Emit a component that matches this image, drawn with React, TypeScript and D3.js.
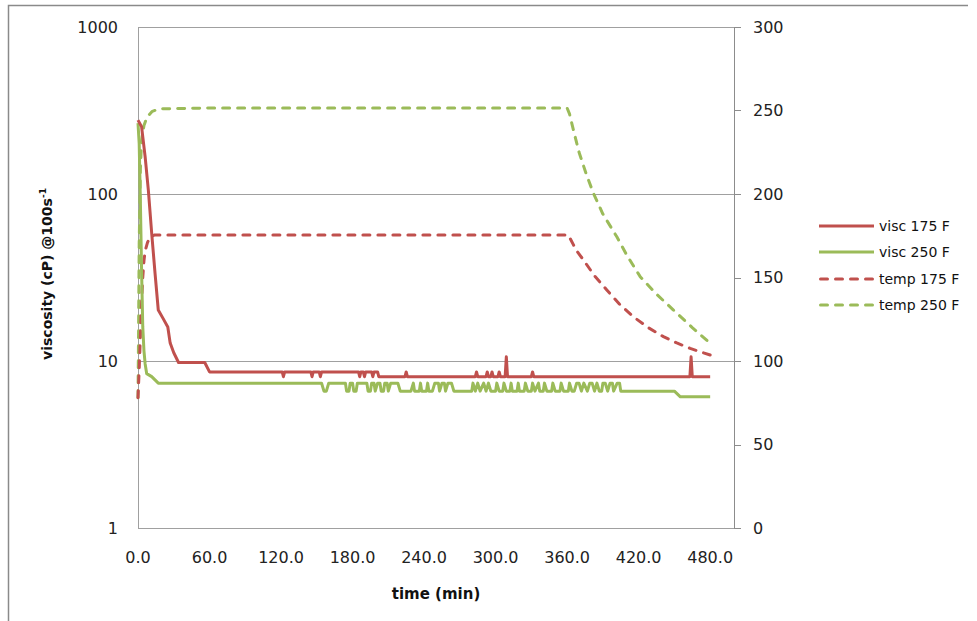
import React from "react";
import * as d3 from "d3";

// ---------- data ----------
const X_TICKS = [0, 60, 120, 180, 240, 300, 360, 420, 480];
const Y_LEFT_TICKS = [1, 10, 100, 1000];
const Y_RIGHT_TICKS = [0, 50, 100, 150, 200, 250, 300];

const SERIES_NAMES = ["visc 175 F", "visc 250 F", "temp 175 F", "temp 250 F"];

const U = 7.37; // upper step level of visc 250 F
const L = 6.6; // lower step level of visc 250 F
const RB = 8.05; // base level of visc 175 F
const RH = 8.6; // upper step level of visc 175 F

const visc175: [number, number][] = [
  [0, 277], [3, 253], [6, 167], [8.7, 105], [11.5, 58], [14.3, 33.5], [17, 20.2], [21, 18], [25, 16],
  [27, 12.8], [30, 11.2], [34, 9.8], [56, 9.8], [60, RH], [121, RH], [122, RB], [123, RH], [145, RH],
  [146, RB], [147, RH], [152, RH], [153, RB], [154, RH], [185, RH], [186, RB], [187, RH], [189, RH],
  [190, RB], [191, RH], [196, RH], [197, RB], [198, RH], [201, RH], [202, RB], [224, RB], [225, RH],
  [226, RB], [283, RB], [284, RH], [285, RB], [292, RB], [293, RH], [294, RB], [296, RB], [297, RH],
  [298, RB], [302, RB], [303, RH], [304, RB], [308, RB], [309, 10.6], [310, RB], [330, RB], [331, RH],
  [332, RB], [463, RB], [464, 10.6], [465, RB], [480, RB],
];

const visc250: [number, number][] = [
  [0, 266], [1, 200], [2, 90], [3, 35], [4, 16], [5, 11.5], [6, 9.6], [7.3, 8.4], [11.5, 8.06], [17, U],
  [154, U], [156, L], [158, L], [160, U],
  [174, U], [175, L], [177, L], [178, U], [180, U], [181, L], [183, L], [184, U], [186, U],
  [192, U], [193, L], [195, L], [196, U], [198, U], [199, L], [201, U], [203, U], [204, L], [206, L],
  [207, U], [209, U], [210, L], [212, U],
  [218, U], [220, L], [229, L], [231, U], [232, L], [236, L], [237, U], [238, L], [242, L], [243, U],
  [244, L], [247, L], [249, U], [252, U], [253, L], [255, U], [257, U], [258, L], [260, U], [263, U],
  [265, L], [280, L], [281, U], [283, L], [285, U], [287, L], [290, U], [292, L], [294, U], [296, L],
  [300, L], [301, U], [303, L], [306, L], [307, U], [309, L], [312, L], [313, U], [314, L], [318, L],
  [319, U], [320, L], [324, L], [325, U], [327, L], [330, L], [331, U], [333, L], [336, U], [337, L],
  [340, L], [341, U], [343, L], [347, L], [348, U], [350, L], [354, L], [355, U], [357, L], [361, L],
  [362, U], [364, L], [366, L], [368, U], [370, U], [372, L], [374, U], [377, L], [379, U], [381, U],
  [383, L], [385, U], [387, L], [389, L], [390, U], [392, U], [394, L], [396, U], [398, U], [399, L],
  [402, U], [404, U], [405, L], [450, L], [455, 6.1], [480, 6.1],
];

const temp175: [number, number][] = [
  [0, 78], [1, 95], [2, 115], [3, 135], [4, 150], [5, 160], [6, 166], [8, 171], [10, 174], [14, 175.5],
  [361, 175.5], [365, 170], [368, 166], [373.7, 160.5], [383, 151], [393.3, 142.5], [404, 134],
  [415.6, 126.5], [428, 120], [440.8, 114.6], [452, 110.8], [463.2, 107.6], [472, 105.4], [480, 103.6],
];

const temp250: [number, number][] = [
  [0, 78], [0.5, 120], [1, 170], [2, 215], [3, 232], [5, 241], [7.5, 246], [12, 249.5], [18, 251],
  [60, 251.5], [360, 251.5], [362, 248], [365.3, 238.3], [370, 225], [376, 212], [382.1, 200.4],
  [390, 188], [401.7, 174.4], [410, 163.5], [421.3, 150.5], [435, 140], [449.2, 130.5], [465, 120],
  [480, 110.6],
];

// ---------- style ----------
const RED = "#C0504D";
const GREEN = "#9BBB59";
const GRID = "#A0A0A0";
const AXIS = "#8C8C8C";
const FONT = "'DejaVu Sans', Verdana, sans-serif";

const W = 977;
const H = 621;
const PL = 138;
const PR = 734;
const PT = 27;
const PB = 528;

export default function App() {
  const x = d3.scaleLinear().domain([0, 500]).range([PL, PR]);
  const yL = d3.scaleLog().domain([1, 1000]).range([PB, PT]);
  const yR = d3.scaleLinear().domain([0, 300]).range([PB, PT]);

  const lineL = d3
    .line<[number, number]>()
    .x((d) => x(d[0]))
    .y((d) => yL(d[1]));
  const lineR = d3
    .line<[number, number]>()
    .x((d) => x(d[0]))
    .y((d) => yR(d[1]));

  const dash = "7 8";
  const legend = [
    { name: SERIES_NAMES[0], color: RED, dashed: false },
    { name: SERIES_NAMES[1], color: GREEN, dashed: false },
    { name: SERIES_NAMES[2], color: RED, dashed: true },
    { name: SERIES_NAMES[3], color: GREEN, dashed: true },
  ];
  const legendY = [226, 252, 279, 305];

  return (
    <svg
      width={W}
      height={H}
      style={{ position: "absolute", left: 0, top: 0, background: "#fff" }}
      fontFamily={FONT}
    >
      <rect x={0} y={0} width={W} height={H} fill="#fff" />
      {/* outer frame */}
      <path d={`M8.5,${H} L8.5,5.5 L968,5.5`} fill="none" stroke="#8A8A8A" strokeWidth={1.5} />

      {/* gridlines */}
      {Y_LEFT_TICKS.map((t) => (
        <line key={"g" + t} x1={PL} x2={PR} y1={Math.round(yL(t)) + 0.5} y2={Math.round(yL(t)) + 0.5} stroke={GRID} strokeWidth={1} />
      ))}
      {/* left axis line */}
      <line x1={PL + 0.5} x2={PL + 0.5} y1={PT} y2={PB} stroke={GRID} strokeWidth={1} />
      {/* right axis */}
      <line x1={PR + 0.5} x2={PR + 0.5} y1={PT} y2={PB + 0.5} stroke={AXIS} strokeWidth={1} />
      {Y_RIGHT_TICKS.map((t) => (
        <line key={"rt" + t} x1={PR} x2={PR + 7} y1={Math.round(yR(t)) + 0.5} y2={Math.round(yR(t)) + 0.5} stroke={AXIS} strokeWidth={1} />
      ))}

      {/* left tick labels */}
      {Y_LEFT_TICKS.map((t) => (
        <text key={"lt" + t} x={118} y={yL(t)} dy="0.36em" textAnchor="end" fontSize={16} fill="#222">
          {String(t)}
        </text>
      ))}
      {/* right tick labels */}
      {Y_RIGHT_TICKS.map((t) => (
        <text key={"rl" + t} x={753} y={yR(t)} dy="0.36em" textAnchor="start" fontSize={16} fill="#222">
          {String(t)}
        </text>
      ))}
      {/* x tick labels */}
      {X_TICKS.map((t) => (
        <text key={"xt" + t} x={x(t)} y={557} dy="0.36em" textAnchor="middle" fontSize={16} fill="#222">
          {t.toFixed(1)}
        </text>
      ))}

      {/* axis titles */}
      <text x={436} y={599} textAnchor="middle" fontSize={15} fontWeight="bold" fill="#111">
        time (min)
      </text>
      <text transform="translate(52,274) rotate(-90)" textAnchor="middle" fontSize={14} fontWeight="bold" fill="#111">
        viscosity (cP) @100s
        <tspan fontSize={9} dy={-6}>-1</tspan>
      </text>

      {/* series */}
      <path d={lineR(temp250) || ""} fill="none" stroke={GREEN} strokeWidth={3} strokeDasharray={dash} strokeLinecap="round" strokeLinejoin="round" />
      <path d={lineR(temp175) || ""} fill="none" stroke={RED} strokeWidth={3} strokeDasharray={dash} strokeLinecap="round" strokeLinejoin="round" />
      <path d={lineL(visc250) || ""} fill="none" stroke={GREEN} strokeWidth={3} strokeLinejoin="round" />
      <path d={lineL(visc175) || ""} fill="none" stroke={RED} strokeWidth={3} strokeLinejoin="round" />

      {/* legend */}
      {legend.map((d, i) => (
        <g key={d.name}>
          <line
            x1={d.dashed ? 820.5 : 819}
            x2={d.dashed ? 872.5 : 874}
            y1={legendY[i]}
            y2={legendY[i]}
            stroke={d.color}
            strokeWidth={3}
            strokeLinecap={d.dashed ? "round" : "butt"}
            strokeDasharray={d.dashed ? "7 8" : undefined}
          />
          <text x={879} y={legendY[i]} dy="0.36em" fontSize={14} fill="#111">
            {d.name}
          </text>
        </g>
      ))}
    </svg>
  );
}
